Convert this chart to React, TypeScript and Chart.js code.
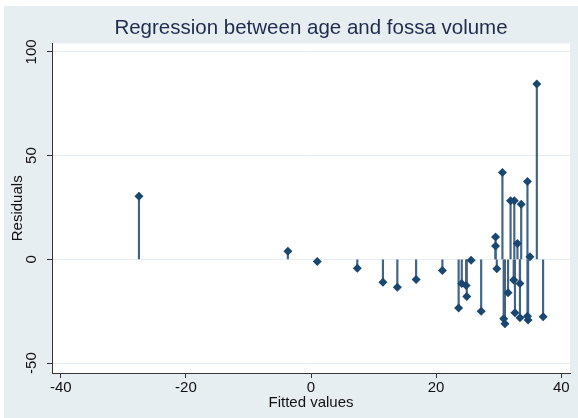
import React, { useEffect, useRef } from 'react';
import { Chart, registerables } from 'chart.js';
Chart.register(...registerables);

const fittedValues = [
  -27.5, -3.7, 1.0, 7.4, 11.5, 13.8, 16.8, 21.0, 23.6, 24.1, 24.8, 24.9, 25.6, 27.2,
  29.5, 29.5, 29.7, 30.6, 30.8, 31.0, 31.5, 31.9, 32.5, 32.4, 32.6, 33.0, 33.4, 33.4,
  33.6, 34.6, 34.6, 34.7, 35.0, 36.1, 37.1,
];
const residuals = [
  30.4, 3.9, -1.0, -4.3, -11.0, -13.5, -9.7, -5.4, -23.5, -11.7, -12.6, -17.9, -0.5, -25.0,
  10.8, 6.4, -4.5, 41.9, -28.7, -31.0, -16.1, 28.2, 28.2, -10.0, -25.8, 7.6, -11.7, -28.2,
  26.6, 37.5, -27.4, -29.3, 1.3, 84.5, -27.7,
];
const xTicks = [-40, -20, 0, 20, 40];
const yTicks = [-50, 0, 50, 100];
const titleText = 'Regression between age and fossa volume';
const xTitle = 'Fitted values';
const yTitle = 'Residuals';

const FONT = '"Liberation Sans", Arial, sans-serif';

export default function App() {
  const ref = useRef<HTMLCanvasElement>(null);
  useEffect(() => {
    const points = fittedValues.map((x, i) => ({ x, y: residuals[i] }));
    const stems = fittedValues.map((x, i) => ({ x, y: [0, residuals[i]] }));
    const plotBg = {
      id: 'plotBg',
      beforeDraw(chart: any) {
        const { ctx, chartArea: a } = chart;
        ctx.save();
        ctx.fillStyle = '#ffffff';
        ctx.fillRect(a.left, a.top, a.right - a.left, a.bottom - a.top);
        ctx.restore();
      },
    };
    const chart = new Chart(ref.current as HTMLCanvasElement, {
      type: 'scatter',
      data: {
        datasets: [
          {
            type: 'bar',
            data: stems as any,
            backgroundColor: '#3f6488',
            borderWidth: 0,
            barThickness: 1.5,
            order: 2,
          } as any,
          {
            type: 'scatter',
            data: points,
            pointStyle: 'rectRot',
            pointRadius: 4.5,
            backgroundColor: '#1a476f',
            borderColor: '#1a476f',
            borderWidth: 0,
            order: 1,
          } as any,
        ],
      },
      options: {
        animation: false,
        responsive: false,
        layout: { padding: { left: 0, right: 8, top: 0, bottom: 0 } },
        plugins: {
          legend: { display: false },
          tooltip: { enabled: false },
          title: {
            display: true,
            text: titleText,
            fullSize: false,
            color: '#1e2b4d',
            font: { family: FONT, size: 20.5, weight: 'normal' },
            padding: { top: 10, bottom: 3 },
          },
        },
        scales: {
          x: {
            type: 'linear',
            position: 'bottom',
            offset: false,
            min: -41.4,
            max: 41.4,
            afterBuildTicks: (s: any) => { s.ticks = xTicks.map((v) => ({ value: v })); },
            afterFit: (s: any) => { s.height = 45; },
            grid: { offset: false, drawOnChartArea: false, drawTicks: true, tickLength: 5, tickColor: '#333', color: '#333' },
            border: { display: true, color: '#333', width: 1 },
            ticks: {
              font: { family: FONT, size: 15 },
              color: '#111',
              padding: 1,
              maxRotation: 0,
              minRotation: 0,
              callback: (v: any) => String(v),
            },
            title: {
              display: true,
              text: xTitle,
              color: '#111',
              font: { family: FONT, size: 15 },
              padding: { top: 0, bottom: 6 },
            },
          },
          y: {
            type: 'linear',
            offset: false,
            min: -54.8,
            max: 104,
            afterBuildTicks: (s: any) => { s.ticks = yTicks.map((v) => ({ value: v })); },
            afterFit: (s: any) => { s.width = 48; },
            grid: { offset: false, color: '#e7eef1', lineWidth: 1, drawTicks: true, tickLength: 5, tickColor: '#333' },
            border: { display: true, color: '#333', width: 1 },
            ticks: {
              font: { family: FONT, size: 15 },
              color: '#111',
              padding: 3,
              minRotation: 90,
              maxRotation: 90,
              crossAlign: 'center',
              callback: (v: any) => String(v),
            },
            title: {
              display: true,
              text: yTitle,
              color: '#111',
              font: { family: FONT, size: 15 },
              padding: { top: 5, bottom: 0 },
            },
          },
        },
      } as any,
      plugins: [plotBg],
    });
    return () => chart.destroy();
  }, []);
  return (
    <div style={{ position: 'absolute', left: 0, top: 0, width: 578, height: 418, background: '#ffffff' }}>
      <div style={{ position: 'absolute', left: 4, top: 6, width: 574, height: 412, background: '#e7eef1' }}>
        <canvas ref={ref} width={574} height={412} style={{ display: 'block' }} />
      </div>
    </div>
  );
}
